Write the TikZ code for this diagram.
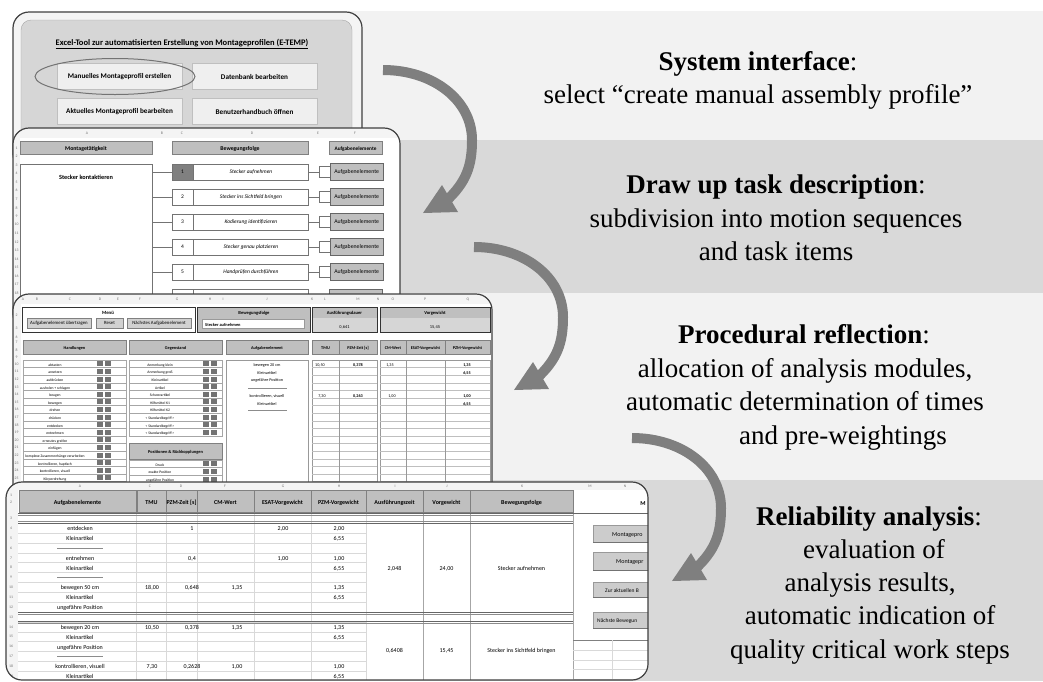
\documentclass[tikz,border=0pt]{standalone}
\usepackage{fontspec}
\setmainfont{Liberation Serif}
\newfontfamily\calibri{Carlito}
\usetikzlibrary{positioning}

\definecolor{bandlight}{HTML}{F2F2F2}
\definecolor{banddark}{HTML}{D9D9D9}
\definecolor{arrowfill}{HTML}{7F7F7F}
\definecolor{headfill}{HTML}{BFBFBF}
\definecolor{panelfill}{HTML}{D6D6D6}
\definecolor{btnfill}{HTML}{EFEFEF}
\definecolor{stripfill}{HTML}{F4F4F4}

\newcommand{\xl}[1]{\calibri\fontsize{#1}{#1}\selectfont}

\tikzset{
  capline/.style={anchor=base, inner sep=0pt, font=\fontsize{27}{33}\selectfont},
  shotframe/.style={draw=black!75, line width=1.2pt, rounded corners=16pt},
  colletter/.style={inner sep=0pt, text=black!55, font=\xl{3.8}},
  rownum/.style={inner sep=0pt, text=black!55, font=\xl{3.8}},
  sheettext/.style={inner sep=0pt, text height=0.7em, text depth=0.2em, font=\xl{#1}},
  sheetbold/.style={inner sep=0pt, text height=0.7em, text depth=0.2em, font=\xl{#1}\bfseries},
  headcell/.style={draw=black!50, fill=headfill},
  menubtn/.style={draw=black!25, fill=btnfill, minimum width=125pt, minimum height=26pt, inner sep=0pt, font=\xl{7.2}\bfseries},
  numcell/.style={draw=black!55, minimum width=21pt, minimum height=16pt, inner sep=0pt, font=\xl{5.5}},
  seqcell/.style={draw=black!55, minimum width=115pt, minimum height=16pt, inner sep=0pt, font=\xl{5.5}\itshape},
  tickcell/.style={draw=black!55, fill=white, minimum size=11pt, inner sep=0pt},
  elembtn/.style={draw=black!60, fill=headfill, minimum width=53pt, minimum height=17pt, inner sep=0pt, font=\xl{5.8}},
  smallbtn/.style={draw=black!50, fill=black!18, minimum height=10pt, inner sep=0pt, font=\xl{4.8}},
  panelbtn/.style={draw=black!40, fill=black!20},
  bigarrow/.pic={
    \draw[arrowfill, line width=10pt] (0,0) .. controls (50,0) and (89,30) .. (89,70)
      .. controls (89,95) and (84,112) .. (62,132);
    \fill[arrowfill] (40,143) -- (59,115) -- (75,142) -- cycle;
  },
}

\begin{document}
\begin{tikzpicture}[x=1pt, y=-1pt]
\useasboundingbox (0,0) rectangle (1043,681);

% bands
\fill[bandlight] (60,11) rectangle (1043,140);
\fill[banddark] (60,140) rectangle (1043,293);
\fill[bandlight] (60,293) rectangle (1043,480);
\fill[banddark] (60,480) rectangle (1043,681);

% screenshot 1: start menu
\begin{scope}
  \clip[rounded corners=16pt] (13,12) rectangle (362,170);
  \fill[stripfill] (13,12) rectangle (362,170);
  \filldraw[fill=panelfill, draw=black!35, rounded corners=10pt] (21,20) rectangle (352,180);
  \node[sheetbold=8.5] (title) at (182,43) {\underline{Excel-Tool zur automatisierten Erstellung von Montageprofilen (E-TEMP)}};
  \node[menubtn] (manual) at (119.5,76.5) {Manuelles Montageprofil erstellen};
  \node[menubtn] (database) at (254.5,76.5) {Datenbank bearbeiten};
  \node[menubtn] (current) at (119.5,111.5) {Aktuelles Montageprofil bearbeiten};
  \node[menubtn] (manualbook) at (254.5,111.5) {Benutzerhandbuch öffnen};
\end{scope}
\draw[shotframe] (13,12) rectangle (362,170);
\draw[black!55, line width=1pt] ([xshift=-4.5pt]manual.center) ellipse [x radius=80, y radius=18];

% screenshot 2: task description
\begin{scope}
  \clip[rounded corners=16pt] (13,128) rectangle (400,330);
  \fill[white] (13,128) rectangle (400,330);
  \fill[stripfill] (13,128) rectangle (400,138);
  \fill[stripfill] (13,138) rectangle (20,330);
  \foreach \c/\x in {A/87,B/162,C/182,D/252,E/318,F/355}
    \node[colletter] at (\x,133.5) {\c};
  \foreach \r in {1,...,18}
    \node[rownum] at (16.5,{148+(\r-1)*8.53}) {\r};
  \node[headcell, minimum width=132pt, minimum height=13pt, sheetbold=5.8] (montask) at (86,147.5) {Montagetätigkeit};
  \node[headcell, minimum width=136pt, minimum height=13pt, sheetbold=5.8] (seqhead) at (240,147.5) {Bewegungsfolge};
  \node[headcell, minimum width=53pt, minimum height=13pt, sheetbold=5.3] (elemhead) at (355.5,147.5) {Aufgabenelemente};
  \draw[black!55] (20,164) rectangle (152,340);
  \node[sheetbold=6.3] (plug) at (86,177) {Stecker kontaktieren};
  \foreach \i/\t/\f in {1/Stecker aufnehmen/50, 2/Stecker ins Sichtfeld bringen/0, 3/Kodierung identifizieren/0, 4/Stecker genau platzieren/0, 5/Handprüfen durchführen/0} {
    \node[numcell, fill=black!\f] (num\i) at (182.5,{172+(\i-1)*25}) {\i};
    \node[seqcell, right=0pt of num\i] (seq\i) {\t};
    \node[tickcell, right=10pt of seq\i] (tick\i) {};
    \node[elembtn, right=0pt of tick\i] (elem\i) {Aufgabenelemente};
    \draw[black!55] (num\i.west -| 152,0) -- (num\i.west);
    \draw[black!55] (seq\i) -- (tick\i);
  }
  \draw[black!55] (172,289) rectangle (193,305) (193,289) rectangle (308,305);
  \draw[black!60, fill=headfill] (329,289) rectangle (382,306);
\end{scope}
\draw[shotframe] (13,128) rectangle (400,330);

% screenshot 3: procedural reflection
\begin{scope}
  \clip[rounded corners=16pt] (13,294) rectangle (492,520);
  \fill[white] (13,294) rectangle (492,520);
  \fill[stripfill] (13,294) rectangle (492,304);
  \fill[stripfill] (13,304) rectangle (21,520);
  \foreach \c/\x in {A/23,B/37,C/70,D/100,E/118,F/140,G/177,H/210,I/223,J/267,K/312,L/325,M/358,N/378,O/393,P/425,Q/468}
    \node[colletter] at (\x,299.5) {\c};
  \foreach \r/\y in {2/315,3/328,6/337,7/342,8/350,9/357}
    \node[rownum] at (16.5,\y) {\r};
  \foreach \r in {10,...,25}
    \node[rownum] at (16.5,{364+(\r-10)*7.6}) {\r};
  % menu
  \draw[black!80, line width=1pt, fill=white] (22,307) rectangle (195,332);
  \node[sheetbold=4.8] (menu) at (108,312) {Menü};
  \node[smallbtn, minimum width=64pt] (transfer) at (59,323) {Aufgabenelement übertragen};
  \node[smallbtn, minimum width=27pt] (reset) at (109.5,323) {Reset};
  \node[smallbtn, minimum width=64pt] (nextelem) at (159,323) {Nächstes Aufgabenelement};
  % motion sequence, duration, weighting
  \draw[black!80, line width=1pt, fill=headfill] (197,307) rectangle (310,332);
  \node[sheetbold=4.6] (seqtitle) at (254,312) {Bewegungsfolge};
  \draw[black!40, fill=white] (202,319.5) rectangle (304,328.5);
  \node[sheetbold=4.4, anchor=west] (seqfield) at (205,324) {Stecker aufnehmen};
  \draw[black!80, line width=1pt, fill=panelfill] (312,307) rectangle (377,332);
  \fill[headfill] (312.5,307.5) rectangle (376.5,318);
  \node[sheetbold=4.6] (durtitle) at (344.5,312) {Ausführungsdauer};
  \node[sheettext=4.4] (durval) at (344.5,326) {0,641};
  \draw[black!80, line width=1pt, fill=panelfill] (380,307) rectangle (490,332);
  \fill[headfill] (380.5,307.5) rectangle (489.5,318);
  \node[sheetbold=4.6] (wtitle) at (435,312) {Vorgewicht};
  \node[sheettext=4.4] (wval) at (435,326) {15,45};
  % column heads
  \foreach \a/\b/\t in {23/126/Handlungen, 129/222/Gegenstand, 226/308/Aufgabenelement, 312/339/TMU, 339/377/PZM-Zeit [s], 380/406/CM-Wert, 406/445/ESAT-Vorgewicht, 445/490/PZM-Vorgewicht} {
    \draw[headcell] (\a,340) rectangle (\b,354);
    \node[sheetbold=4.3] at ({(\a+\b)/2},347) {\t};
  }
  % actions
  \foreach \t [count=\k from 0] in {abtasten, ansetzen, aufdrücken, ausholen + schlagen, beugen, bewegen, drehen, drücken, entdecken, entnehmen, erneutes greifen, einfügen, komplexe Zusammenhänge verarbeiten, {kontrollieren, haptisch}, {kontrollieren, visuell}, Körperdrehung} {
    \draw[black!35] (23,{360+\k*7.6}) rectangle (126,{367.6+\k*7.6});
    \node[sheettext=3.7] at (55,{363.8+\k*7.6}) {\t};
    \fill[black!55] (97,{361.3+\k*7.6}) rectangle (103,{366.3+\k*7.6});
    \fill[black!55] (105,{361.3+\k*7.6}) rectangle (111,{366.3+\k*7.6});
  }
  % objects
  \foreach \t [count=\k from 0] in {Anmerkung klein, Anmerkung groß, Kleinartikel, Artikel, Schwerartikel, Hilfsmittel K1, Hilfsmittel K2, < Standardbegriff >, < Standardbegriff >, < Standardbegriff >} {
    \draw[black!35] (129,{360+\k*7.6}) rectangle (222,{367.6+\k*7.6});
    \node[sheettext=3.7] at (160,{363.8+\k*7.6}) {\t};
    \fill[black!55] (203,{361.3+\k*7.6}) rectangle (209,{366.3+\k*7.6});
    \fill[black!55] (211,{361.3+\k*7.6}) rectangle (217,{366.3+\k*7.6});
  }
  \draw[headcell] (129,443) rectangle (222,459);
  \node[sheetbold=4.4] (poshead) at (175.5,451) {Positionen \& Rückkopplungen};
  \foreach \t [count=\k from 0] in {Druck, exakte Position, ungefähre Position} {
    \draw[black!35] (129,{460+\k*7.6}) rectangle (222,{467.6+\k*7.6});
    \node[sheettext=3.7] at (160,{463.8+\k*7.6}) {\t};
    \fill[black!55] (203,{461.3+\k*7.6}) rectangle (209,{466.3+\k*7.6});
    \fill[black!55] (211,{461.3+\k*7.6}) rectangle (217,{466.3+\k*7.6});
  }
  % task element box
  \draw[black!40] (226,360) rectangle (308,520);
  \foreach \t/\y in {bewegen 20 cm/364, Kleinartikel/371.5, ungefähre Position/379, {kontrollieren, visuell}/395, Kleinartikel/402.5}
    \node[sheettext=4.2] at (267,\y) {\t};
  \draw[black!45] (248,388) -- (287,388) (248,410) -- (287,410);
  % time and weighting grid
  \foreach \a/\b in {312/377, 380/490} {
    \draw[black!40] (\a,360) rectangle (\b,520);
    \foreach \k in {1,...,21}
      \draw[black!25] (\a,{360+\k*7.6}) -- (\b,{360+\k*7.6});
  }
  \foreach \x in {339,406,445}
    \draw[black!40] (\x,360) -- (\x,520);
  \foreach \x/\y/\t in {320/364/{10,50}, 322/395/{7,30}, 390/364/{1,35}, 392/395/{1,00}}
    \node[sheettext=4.2] at (\x,\y) {\t};
  \foreach \x/\y/\t in {358/364/{0,378}, 358/395/{0,263}, 467/364/{1,35}, 467/371.5/{6,55}, 467/395/{1,00}, 467/402.5/{6,55}}
    \node[sheetbold=4.2] at (\x,\y) {\t};
\end{scope}
\draw[shotframe] (13,294) rectangle (492,520);

% screenshot 4: reliability analysis
\begin{scope}
  \clip[rounded corners=16pt] (6,482) rectangle (648,680);
  \fill[white] (6,482) rectangle (648,680);
  \fill[stripfill] (6,482) rectangle (648,490);
  \fill[stripfill] (6,490) rectangle (18,680);
  \foreach \c/\x in {A/80,C/150,D/181,F/225,G/283,H/339,I/395,J/447,K/522,M/590,N/625}
    \node[colletter] at (\x,486) {\c};
  \node[rownum] at (11,495) {1};
  \node[rownum] at (11,502) {2};
  \foreach \r in {3,...,19}
    \node[rownum] at (11,{518.3+(\r-3)*9.87}) {\r};
  % header
  \foreach \a/\b/\t in {19/136/Aufgabenelemente, 137/166/TMU, 166/197/PZM-Zeit [s], 197/254/CM-Wert, 254/311/ESAT-Vorgewicht, 311/366/PZM-Vorgewicht, 366/423/Ausführungszeit, 423/470/Vorgewicht, 470/573/Bewegungsfolge} {
    \draw[headcell] (\a,490) rectangle (\b,512.5);
    \node[sheetbold=6] at ({(\a+\b)/2},501.5) {\t};
  }
  \node[sheetbold=6] (menuhead) at (643,503) {M};
  % grid
  \foreach \k in {2,...,17}
    \draw[black!15] (18,{513.3+\k*9.87}) -- (366,{513.3+\k*9.87});
  \foreach \x in {136,166,197,254,311,366}
    \draw[black!15] (\x,513) -- (\x,680);
  \foreach \x in {423,470,573}
    \draw[black!35] (\x,513) -- (\x,680);
  \draw[black!60, line width=1pt] (18,513.3) -- (648,513.3);
  \draw[black!45] (18,515.5) -- (573,515.5);
  \draw[black!60, line width=1pt] (18,523.2) -- (573,523.2) (18,612) -- (573,612) (18,621.5) -- (573,621.5);
  \draw[black!45] (18,521.2) -- (573,521.2) (18,614) -- (573,614) (18,623.5) -- (573,623.5);
  % task elements
  \foreach \r/\t in {4/entdecken, 5/Kleinartikel, 7/entnehmen, 8/Kleinartikel, 10/bewegen 50 cm, 11/Kleinartikel, 12/ungefähre Position, 14/bewegen 20 cm, 15/Kleinartikel, 16/ungefähre Position, 18/{kontrollieren, visuell}, 19/Kleinartikel}
    \node[sheettext=6] at (80,{518.3+(\r-3)*9.87}) {\t};
  \foreach \r in {6,9,17}
    \draw[black!45] (57,{518.3+(\r-3)*9.87}) -- (103,{518.3+(\r-3)*9.87});
  \foreach \r/\x/\t in {4/192/1, 4/283/{2,00}, 4/339/{2,00}, 5/339/{6,55}, 7/192/{0,4}, 7/283/{1,00}, 7/339/{1,00}, 8/339/{6,55}, 10/152/{18,00}, 10/192/{0,648}, 10/237/{1,35}, 10/339/{1,35}, 11/339/{6,55}, 14/152/{10,50}, 14/192/{0,378}, 14/237/{1,35}, 14/339/{1,35}, 15/339/{6,55}, 18/152/{7,30}, 18/192/{0,2628}, 18/237/{1,00}, 18/339/{1,00}, 19/339/{6,55}}
    \node[sheettext=6] at (\x,{518.3+(\r-3)*9.87}) {\t};
  \node[sheettext=6] (time1) at (394.5,568) {2,048};
  \node[sheettext=6] (weight1) at (446.5,568) {24,00};
  \node[sheettext=6] (seqname1) at (521.5,568) {Stecker aufnehmen};
  \node[sheettext=6] (time2) at (394.5,650) {0,6408};
  \node[sheettext=6] (weight2) at (446.5,650) {15,45};
  \node[sheettext=6] (seqname2) at (521.5,650) {Stecker ins Sichtfeld bringen};
  % menu panel
  \draw[black!50] (573,640) -- (648,640);
  \foreach \k in {1,...,4}
    \draw[black!15] (573,{640+\k*9.87}) -- (648,{640+\k*9.87});
  \draw[black!15] (612,640) -- (612,680);
  \foreach \a/\b in {525/542, 552/570, 582/597, 612/628} {
    \draw[panelbtn] (593,\a) rectangle (660,\b);
    \draw[black!55, line width=1pt] (593,\b) -- (660,\b);
  }
  \node[sheettext=6, anchor=west] (prof1) at (612,533.5) {Montagepro};
  \node[sheettext=6, anchor=west] (prof2) at (616,561) {Montagepr};
  \node[sheettext=5.5, anchor=west] (backto) at (605,589.5) {Zur aktuellen B};
  \node[sheettext=5.5, anchor=west] (nextseq) at (597,620) {Nächste Bewegun};
\end{scope}
\draw[shotframe] (6,482) rectangle (648,680);

% curved arrows
\pic at (383,70) {bigarrow};
\pic at (474,247) {bigarrow};
\pic at (632,438) {bigarrow};

% step descriptions
\node[capline] (sys1) at (758,70) {\textbf{System interface}:};
\node[capline] (sys2) at (758,103) {select “create manual assembly profile”};
\node[capline] (task1) at (776,193) {\textbf{Draw up task description}:};
\node[capline] (task2) at (776,227) {subdivision into motion sequences};
\node[capline] (task3) at (776,260) {and task items};
\node[capline] (proc1) at (804,343) {\textbf{Procedural reflection}:};
\node[capline] (proc2) at (805,377) {allocation of analysis modules,};
\node[capline] (proc3) at (805,410) {automatic determination of times};
\node[capline] (proc4) at (843,444) {and pre-weightings};
\node[capline] (rel1) at (869,525) {\textbf{Reliability analysis}:};
\node[capline] (rel2) at (874,558) {evaluation of};
\node[capline] (rel3) at (870,591) {analysis results,};
\node[capline] (rel4) at (870,624) {automatic indication of};
\node[capline] (rel5) at (870,658) {quality critical work steps};
\end{tikzpicture}
\end{document}
